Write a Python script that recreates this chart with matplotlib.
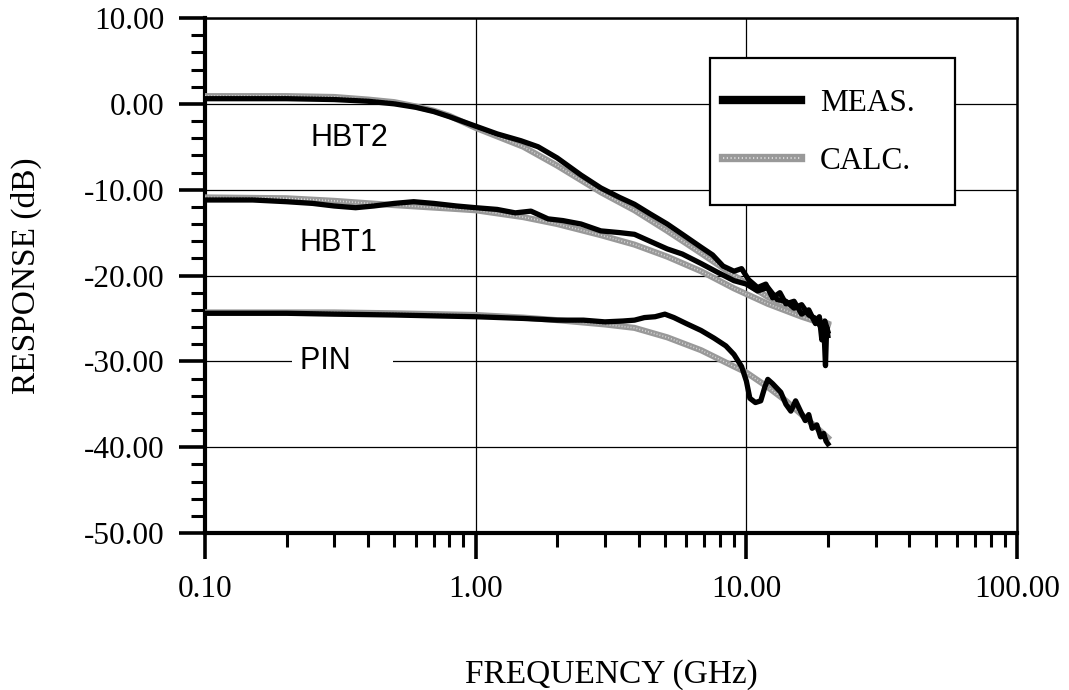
import matplotlib
matplotlib.use('Agg')
import matplotlib.pyplot as plt
from matplotlib.patches import Rectangle
from matplotlib.legend_handler import HandlerTuple
from matplotlib.ticker import FixedLocator, FixedFormatter, LogLocator, NullFormatter, MultipleLocator

plt.rcParams['axes.unicode_minus'] = False
plt.rcParams['font.family'] = ['Liberation Serif', 'DejaVu Serif']

# ---- data ----
# HBT2
hbt2_meas_f = [0.1, 0.15, 0.2, 0.3, 0.4, 0.5, 0.6, 0.7, 0.8, 1.0, 1.2, 1.47, 1.7, 2.0, 2.45,
               2.9, 3.4, 3.86, 4.4, 5.1, 5.8, 6.8, 7.5, 8.2, 9.0, 9.6, 10.2, 11.0, 11.8,
               12.5, 13.3, 14.0, 15.0, 16.0, 17.0, 18.0, 18.6, 19.0, 19.3, 19.6, 19.8, 20.0]
hbt2_meas_db = [0.6, 0.6, 0.6, 0.5, 0.3, 0.0, -0.4, -0.9, -1.5, -2.6, -3.5, -4.3, -5.0, -6.3, -8.3,
                -9.8, -10.9, -11.7, -12.8, -14.0, -15.2, -16.7, -17.6, -18.9, -19.5, -19.2, -20.5,
                -21.4, -21.0, -22.6, -22.0, -23.3, -23.0, -24.5, -24.0, -25.6, -24.8, -27.5, -25.5,
                -30.5, -26.0, -27.0]
hbt2_calc_f = [0.1, 0.2, 0.3, 0.4, 0.5, 0.6, 0.7, 0.8, 1.0, 1.5, 2.0, 2.9, 3.86, 5.1, 6.8,
               9.0, 12.0, 16.0, 20.0]
hbt2_calc_db = [0.9, 0.9, 0.8, 0.5, 0.2, -0.3, -0.8, -1.4, -2.8, -5.0, -7.2, -10.3, -12.4, -14.8,
                -17.4, -20.0, -22.5, -24.4, -25.6]

# HBT1
hbt1_meas_f = [0.1, 0.15, 0.2, 0.25, 0.3, 0.36, 0.42, 0.5, 0.59, 0.7, 0.85, 1.0, 1.2, 1.4, 1.6,
               1.85, 2.1, 2.45, 2.9, 3.4, 3.86, 4.4, 5.1, 5.8, 6.8, 7.8, 9.0, 10.0, 11.0, 12.0,
               13.0, 14.0, 15.0, 16.0, 17.0, 18.0, 19.0, 19.5, 20.0]
hbt1_meas_db = [-11.2, -11.2, -11.4, -11.6, -11.9, -12.1, -11.9, -11.6, -11.4, -11.6, -11.9, -12.1,
                -12.3, -12.7, -12.5, -13.4, -13.6, -14.0, -14.8, -15.0, -15.2, -16.0, -16.9, -17.5,
                -18.6, -19.6, -20.6, -21.0, -21.8, -21.4, -22.8, -23.0, -23.8, -23.4, -24.6, -25.0,
                -26.2, -25.3, -26.5]
hbt1_calc_f = [0.1, 0.2, 0.3, 0.5, 0.8, 1.0, 1.5, 2.0, 2.9, 3.86, 5.1, 6.8, 9.0, 12.0, 16.0, 20.0]
hbt1_calc_db = [-10.9, -11.0, -11.3, -11.8, -12.2, -12.4, -13.2, -14.0, -15.3, -16.4, -17.8, -19.5,
                -21.5, -23.3, -24.8, -25.8]

# PIN
pin_meas_f = [0.1, 0.2, 0.3, 0.5, 0.7, 1.0, 1.5, 2.0, 2.5, 3.0, 3.5, 3.86, 4.2, 4.6, 5.0, 5.4,
              6.0, 6.8, 7.6, 8.4, 9.0, 9.6, 10.0, 10.3, 10.8, 11.3, 11.7, 12.0, 12.5, 13.4, 14.0,
              14.6, 15.2, 15.9, 16.5, 17.0, 17.5, 18.2, 18.8, 19.3, 19.7, 20.0]
pin_meas_db = [-24.4, -24.4, -24.5, -24.6, -24.7, -24.8, -25.0, -25.2, -25.2, -25.4, -25.3, -25.2,
               -24.9, -24.8, -24.5, -24.9, -25.6, -26.4, -27.3, -28.2, -29.2, -30.6, -32.3, -34.3,
               -34.8, -34.6, -33.0, -32.1, -32.6, -33.6, -35.0, -35.8, -34.6, -35.9, -36.9, -36.2,
               -37.8, -37.4, -38.8, -38.4, -39.3, -39.6]
pin_calc_f = [0.1, 0.3, 0.5, 1.0, 1.5, 2.0, 3.0, 3.86, 5.1, 6.8, 9.0, 10.0, 12.0, 14.0, 16.0,
              18.0, 20.0]
pin_calc_db = [-24.3, -24.3, -24.4, -24.6, -24.9, -25.2, -25.7, -26.1, -27.2, -28.7, -30.6, -31.3,
               -33.0, -34.6, -36.2, -37.6, -38.9]

x_ticks = [0.1, 1, 10, 100]
x_labels = ['0.10', '1.00', '10.00', '100.00']
y_ticks = [10, 0, -10, -20, -30, -40, -50]
y_labels = ['10.00', '0.00', '-10.00', '-20.00', '-30.00', '-40.00', '-50.00']

calc_color = '#999999'

fig = plt.figure(figsize=(10.69, 6.90), dpi=100)
ax = fig.add_axes([0.1918, 0.2275, 0.7596, 0.7464])

ax.set_xscale('log')
ax.set_xlim(0.1, 100)
ax.set_ylim(-50, 10)

# calc curves first (grey stipple), measured on top
for f, d in [(hbt2_calc_f, hbt2_calc_db), (hbt1_calc_f, hbt1_calc_db), (pin_calc_f, pin_calc_db)]:
    ax.plot(f, d, color=calc_color, lw=4.4, solid_joinstyle='round', zorder=3)
    ax.plot(f, d, color='white', lw=1.2, ls=(0, (0.6, 1.2)), alpha=0.6, zorder=3.1)
for f, d in [(hbt2_meas_f, hbt2_meas_db), (hbt1_meas_f, hbt1_meas_db), (pin_meas_f, pin_meas_db)]:
    ax.plot(f, d, color='black', lw=3.8, solid_joinstyle='round', zorder=4)

# legend: frame drawn as a box, entries placed inside
ax.add_patch(Rectangle((0.622, 0.637), 0.302, 0.2854, transform=ax.transAxes,
                       facecolor='white', edgecolor='black', lw=1.6, zorder=5))
h_meas, = ax.plot([], [], color='black', lw=6)
h_calc, = ax.plot([], [], color=calc_color, lw=6)
h_calc_dots, = ax.plot([], [], color='white', lw=1.5, ls=(0, (0.6, 1.2)), alpha=0.6)
leg = ax.legend(handles=[h_meas, (h_calc, h_calc_dots)], labels=['MEAS.', 'CALC.'],
                handler_map={tuple: HandlerTuple(ndivide=1, pad=0)},
                loc='center left', bbox_to_anchor=(0.638, 0.7777),
                fontsize=22.5, frameon=False, handlelength=2.5, handletextpad=0.6,
                borderpad=0, labelspacing=0.95, borderaxespad=0)
leg.set_zorder(6)

# curve labels
ax.text(0.341, -4.0, 'HBT2', family=['Liberation Sans', 'DejaVu Sans'], fontsize=22,
        ha='center', va='center', zorder=2)
ax.text(0.311, -16.2, 'HBT1', family=['Liberation Sans', 'DejaVu Sans'], fontsize=22,
        ha='center', va='center', zorder=2)
ax.text(0.225, -30.0, 'PIN    ', family=['Liberation Sans', 'DejaVu Sans'], fontsize=22,
        ha='left', va='center', zorder=2,
        bbox=dict(facecolor='white', edgecolor='none', pad=6))

# ticks
ax.xaxis.set_major_locator(FixedLocator(x_ticks))
ax.xaxis.set_major_formatter(FixedFormatter(x_labels))
ax.xaxis.set_minor_locator(LogLocator(base=10, subs=range(2, 10)))
ax.xaxis.set_minor_formatter(NullFormatter())
ax.yaxis.set_major_locator(FixedLocator(y_ticks))
ax.yaxis.set_major_formatter(FixedFormatter(y_labels))
ax.yaxis.set_minor_locator(MultipleLocator(2))

ax.tick_params(which='major', direction='out', length=19, width=2.6, labelsize=22.5, pad=10)
ax.tick_params(which='minor', direction='out', length=10, width=2.2)
ax.tick_params(axis='x', which='major', pad=11)

ax.grid(True, which='major', color='black', lw=0.9)
ax.set_axisbelow(True)

for s in ['left', 'bottom']:
    ax.spines[s].set_linewidth(3)
for s in ['top', 'right']:
    ax.spines[s].set_linewidth(1.8)

ax.set_xlabel('FREQUENCY (GHz)', fontsize=24, labelpad=40)
ax.set_ylabel('RESPONSE (dB)', fontsize=24, labelpad=30)

fig.savefig('out.png', dpi=100)
